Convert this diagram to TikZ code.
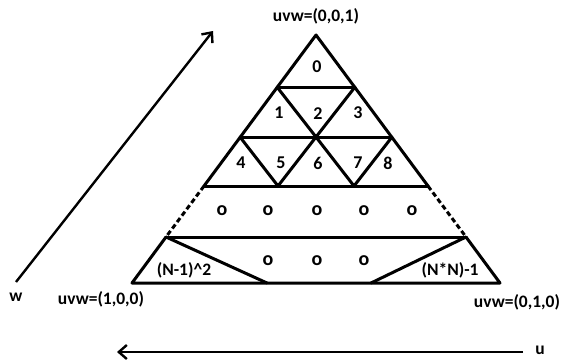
\documentclass[tikz,border=0pt]{standalone}
\usepackage{fontspec}
\setmainfont{Carlito}
\usetikzlibrary{arrows.meta}
\tikzset{
  edge/.style={line width=3pt, line cap=round, line join=round},
  dashedge/.style={line width=3pt, dash pattern=on 5pt off 3pt},
  axis/.style={line width=2.4pt, -{Straight Barb[length=8pt,width=14pt,line width=2.4pt]}},
  lbl/.style={font=\bfseries\fontsize{17.5}{19}\selectfont, inner sep=0pt, text=black},
  num/.style={font=\bfseries\fontsize{18}{20}\selectfont, inner sep=0pt, text=black},
  dot/.style={font=\bfseries\fontsize{20}{22}\selectfont, inner sep=0pt, text=black},
}
\begin{document}
\begin{tikzpicture}[x=1pt,y=-1pt]
\useasboundingbox (0,0) rectangle (564,361);
% geometry
\coordinate (A) at (316,35);
\coordinate (L1) at (277,87);  \coordinate (R1) at (355,87);
\coordinate (L2) at (240,137); \coordinate (R2) at (392,137);
\coordinate (L3) at (204,186); \coordinate (R3) at (428,186);
\coordinate (L4) at (166,237); \coordinate (R4) at (466,237);
\coordinate (L5) at (132,283); \coordinate (R5) at (500,283);
\coordinate (M2) at (316,137);
\coordinate (B1) at (278,186); \coordinate (B2) at (354,186);
\coordinate (P) at (267,283); \coordinate (Q) at (371,283);
% outline
\draw[edge] (L3) -- (A) -- (R3);
\draw[dashedge] (L3) -- (L4);
\draw[dashedge] (R3) -- (R4);
\draw[edge] (L4) -- (L5) -- (R5) -- (R4);
% rows
\draw[edge] (L1) -- (R1);
\draw[edge] (L2) -- (R2);
\draw[edge] (L3) -- (R3);
\draw[edge] (L4) -- (R4);
% inner diagonals
\draw[edge] (L1) -- (M2) -- (R1);
\draw[edge] (L2) -- (B1) -- (M2) -- (B2) -- (R2);
\draw[edge] (L4) -- (P);
\draw[edge] (R4) -- (Q);
% numbers
\node[num] (n0) at (317,67) {0};
\node[num] (n1) at (279,113) {1};
\node[num] (n2) at (318,114) {2};
\node[num] (n3) at (358,113) {3};
\node[num] (n4) at (241,163) {4};
\node[num] (n5) at (281,163) {5};
\node[num] (n6) at (318,163) {6};
\node[num] (n7) at (358,163) {7};
\node[num] (n8) at (388,163) {8};
% circles row
\foreach \x [count=\i] in {222,268,317,364,412} \node[dot] (o\i) at (\x,211) {o};
\foreach \x [count=\i] in {268,317,364} \node[dot] (p\i) at (\x,261) {o};
\node[lbl] (nm1) at (184,270) {(N-1)\^{}2};
\node[lbl] (nn1) at (450,270) {(N*N)-1};
% corner labels
\node[lbl] (top) at (316,16) {uvw=(0,0,1)};
\node[lbl] (lft) at (101,299) {uvw=(1,0,0)};
\node[lbl] (rgt) at (517,302) {uvw=(0,1,0)};
% axes
\coordinate (w0) at (16,282); \coordinate (w1) at (213,31);
\draw[axis] (w0) -- (w1);
\node[lbl] (wl) at (16,297) {w};
\coordinate (u0) at (523,352); \coordinate (u1) at (117,352);
\draw[axis] (u0) -- (u1);
\node[lbl] (ul) at (540,350) {u};
\end{tikzpicture}
\end{document}
